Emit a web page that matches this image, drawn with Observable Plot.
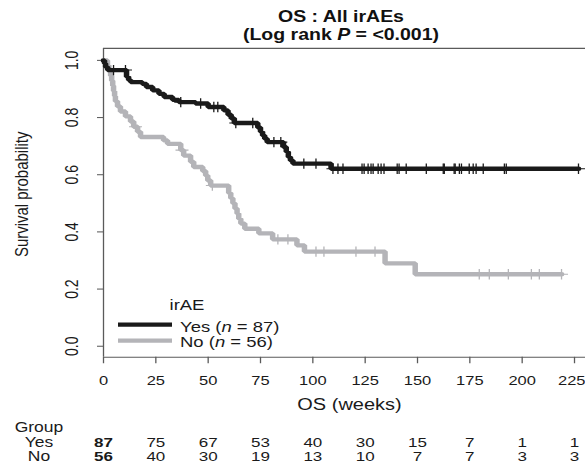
<!DOCTYPE html>
<html>
<head>
<meta charset="utf-8">
<script src="https://cdn.jsdelivr.net/npm/d3@7"></script>
<script src="https://cdn.jsdelivr.net/npm/@observablehq/plot@0.6"></script>
<style>
  html, body { margin: 0; padding: 0; background: #fff; overflow: hidden; }
  #chart svg { display: block; }
</style>
</head>
<body>
<div id="chart"></div>
<script>
// ---------- data ----------
const groups = ["Yes", "No"];
const groupN = [87, 56];

// Kaplan–Meier steps: event times (weeks) and survival after each step
const yesTimes = [0.5, 1, 2, 11, 12, 13, 18.5, 20.5, 23.5, 26.5, 29, 33, 36, 44, 50, 57.5, 59.5, 61, 62.5, 73.7, 75, 76, 77, 78.2, 86, 87.3, 88.3, 89.3, 90.5, 108.7];
const yesSurv  = [0.989, 0.977, 0.966, 0.943, 0.931, 0.924, 0.918, 0.907, 0.895, 0.883, 0.872, 0.862, 0.854, 0.849, 0.837, 0.825, 0.81, 0.797, 0.781, 0.765, 0.75, 0.737, 0.726, 0.714, 0.697, 0.68, 0.662, 0.65, 0.639, 0.621];
const yesCensor = [4.8, 10.5, 36.9, 46.4, 52.7, 54.6, 63.2, 71.3, 81.4, 84.7, 95.7, 101.5, 109.6, 112, 114.4, 123.5, 124.5, 126.4, 127.8, 128.8, 131.2, 132.6, 134, 140.3, 141.2, 144.6, 154.2, 162.3, 162.8, 167.5, 168, 170, 171, 174.7, 176.6, 178, 181.4, 191.5, 192.4, 226.9];

const noTimes = [1.9, 2.6, 3.4, 3.9, 4.4, 4.8, 5.3, 5.7, 6.7, 8.1, 10.5, 12.9, 14.4, 16.3, 17.7, 28.7, 30.6, 36.9, 38.3, 41.6, 43.1, 47.4, 48.8, 49.8, 51.2, 59.8, 60.8, 61.8, 62.8, 63.8, 64.6, 65.6, 67.5, 74.2, 80.8, 92.4, 96, 134.5, 148.9];
const noSurv  = [0.982, 0.964, 0.946, 0.929, 0.911, 0.893, 0.875, 0.857, 0.839, 0.821, 0.804, 0.786, 0.768, 0.75, 0.732, 0.72, 0.708, 0.686, 0.667, 0.645, 0.627, 0.613, 0.597, 0.58, 0.562, 0.536, 0.518, 0.5, 0.482, 0.464, 0.446, 0.429, 0.411, 0.395, 0.374, 0.353, 0.331, 0.29, 0.252];
const noCensor = [15.3, 37.5, 52, 83.3, 88.1, 101.5, 105.3, 120.6, 129.7, 179.5, 184.3, 193.4, 204.4, 208.2, 218.8];

const xTicks = [0, 25, 50, 75, 100, 125, 150, 175, 200, 225];
const yTicks = [0, 0.2, 0.4, 0.6, 0.8, 1.0];
const riskTimes = [0, 25, 50, 75, 100, 125, 150, 175, 200, 225];
const yesRisk = [87, 75, 67, 53, 40, 30, 15, 7, 1, 1];
const noRisk  = [56, 40, 30, 19, 13, 10, 7, 7, 3, 3];

// ---------- derived tables ----------
function survAt(T, S, t) { let s = 1; for (let i = 0; i < T.length; i++) if (T[i] <= t) s = S[i]; return s; }
function curve(T, S, C) {
  const pts = [{t: 0, s: 1}, ...T.map((t, i) => ({t, s: S[i]}))];
  const last = Math.max(...C);
  pts.push({t: last, s: S[S.length - 1]});
  return pts;
}
const yesCurve = curve(yesTimes, yesSurv, yesCensor);
const noCurve = curve(noTimes, noSurv, noCensor);
const yesMarks = yesCensor.map(t => ({t, s: survAt(yesTimes, yesSurv, t)}));
const noMarks = noCensor.map(t => ({t, s: survAt(noTimes, noSurv, t)}));
const riskRows = riskTimes.map((t, i) => ({t, yes: yesRisk[i], no: noRisk[i], i}));
const lastTick = xTicks[xTicks.length - 1];

// ---------- layout ----------
const K = 1.25;               // vertical squeeze of the reference
const W = 585, HD = 463, H = Math.round(HD * K);
const mL = 103, mR = 0, mT = 60, mB = H - 446.25;
const FONT = "'Liberation Sans', Arial, Helvetica, sans-serif";
const BLACK = "#1a1a1a", GREY = "#b4b4b8", AXIS = "#5a5a5a", TXT = "#1a1a1a";
const bottom = H - mB;
const tickBase = 481.5 - bottom;

const plus = {
  draw(ctx, size) {
    const r = Math.sqrt(size / Math.PI);
    ctx.moveTo(-r, 0); ctx.lineTo(r, 0);
    ctx.moveTo(0, -r); ctx.lineTo(0, r);
  }
};

const plot = Plot.plot({
  width: W, height: H,
  marginLeft: mL, marginRight: mR, marginTop: mT, marginBottom: mB,
  x: {domain: [0, 230.25]},
  y: {domain: [-0.0385, 1.042]},
  style: {fontFamily: FONT, fontSize: "17px", color: TXT, background: "#fff", overflow: "visible"},
  marks: [
    // frame: left, top, bottom
    Plot.ruleX([0], {stroke: AXIS, strokeWidth: 1.3}),
    Plot.ruleY([-0.0385, 1.042], {stroke: AXIS, strokeWidth: 1.3}),
    Plot.axisX({ticks: xTicks, tickSize: 8, label: null, stroke: AXIS, strokeWidth: 1.3,
                tickFormat: () => ""}),
    Plot.text(xTicks, {filter: d => d !== lastTick, x: d => d, text: d => String(d), frameAnchor: "bottom",
                       textAnchor: "middle", lineAnchor: "bottom", dy: tickBase, fontSize: 16.5, fill: TXT}),
    Plot.text(xTicks, {filter: d => d === lastTick, x: d => d, text: d => String(d), frameAnchor: "bottom",
                       textAnchor: "end", lineAnchor: "bottom", dx: 11, dy: tickBase, fontSize: 16.5, fill: TXT}),
    Plot.axisY({ticks: yTicks, tickSize: 6, label: null, stroke: AXIS, strokeWidth: 1.3,
                tickFormat: () => ""}),
    Plot.text(yTicks, {y: d => d, text: d => d.toFixed(1), frameAnchor: "left", textAnchor: "middle",
                       dx: -31.5, rotate: -90, fontSize: 17.5, fill: TXT}),
    Plot.text(["Survival probability"], {frameAnchor: "left", textAnchor: "middle", dx: -81.5,
                       dy: 242.5 - (mT + bottom) / 2, rotate: -90, fontSize: 18.7, fill: TXT}),
    Plot.text(["OS (weeks)"], {frameAnchor: "bottom", textAnchor: "middle", lineAnchor: "bottom", dx: 5,
                       dy: 512 - bottom, fontSize: 20, fill: TXT}),
    // curves
    Plot.line(noCurve, {x: "t", y: "s", curve: "step-after", stroke: GREY, strokeWidth: 5.5, strokeLinejoin: "miter"}),
    Plot.dot(noMarks, {x: "t", y: "s", symbol: plus, r: 6.5, stroke: GREY, strokeWidth: 1.3, fill: "none"}),
    Plot.line(yesCurve, {x: "t", y: "s", curve: "step-after", stroke: BLACK, strokeWidth: 5.5, strokeLinejoin: "miter"}),
    Plot.dot(yesMarks, {x: "t", y: "s", symbol: plus, r: 6.5, stroke: BLACK, strokeWidth: 1.3, fill: "none"}),
    // risk table
    Plot.text(["Group"], {frameAnchor: "bottom-left", textAnchor: "middle", lineAnchor: "bottom", dx: 38.5 - mL, dy: 539.4 - bottom, fontSize: 17.5, fill: TXT}),
    Plot.text([groups[0]], {frameAnchor: "bottom-left", textAnchor: "middle", lineAnchor: "bottom", dx: 38.5 - mL, dy: 558.1 - bottom, fontSize: 17.5, fill: TXT}),
    Plot.text([groups[1]], {frameAnchor: "bottom-left", textAnchor: "middle", lineAnchor: "bottom", dx: 38.5 - mL, dy: 576.2 - bottom, fontSize: 17.5, fill: TXT}),
    Plot.text(riskRows, {filter: d => d.i > 0, x: "t", text: d => String(d.yes), frameAnchor: "bottom", textAnchor: "middle", lineAnchor: "bottom", dy: 558.1 - bottom, fontSize: 17, fill: TXT}),
    Plot.text(riskRows, {filter: d => d.i === 0, x: "t", text: d => String(d.yes), frameAnchor: "bottom", textAnchor: "middle", lineAnchor: "bottom", dy: 558.1 - bottom, fontSize: 17, fontWeight: "bold", fill: TXT}),
    Plot.text(riskRows, {filter: d => d.i > 0, x: "t", text: d => String(d.no), frameAnchor: "bottom", textAnchor: "middle", lineAnchor: "bottom", dy: 576.2 - bottom, fontSize: 17, fill: TXT}),
    Plot.text(riskRows, {filter: d => d.i === 0, x: "t", text: d => String(d.no), frameAnchor: "bottom", textAnchor: "middle", lineAnchor: "bottom", dy: 576.2 - bottom, fontSize: 17, fontWeight: "bold", fill: TXT})
  ]
});

const svg = d3.select(plot);
// title
svg.append("text").attr("x", 341).attr("y", 27.5).attr("text-anchor", "middle")
  .attr("font-family", FONT).attr("font-size", 19.5).attr("font-weight", "bold").attr("fill", "#111")
  .text("OS : All irAEs");
const t2 = svg.append("text").attr("x", 341).attr("y", 50).attr("text-anchor", "middle")
  .attr("font-family", FONT).attr("font-size", 19.5).attr("font-weight", "bold").attr("fill", "#111");
t2.append("tspan").text("(Log rank ");
t2.append("tspan").attr("font-style", "italic").text("P");
t2.append("tspan").text(" = <0.001)");

// legend
const lg = svg.append("g").attr("font-family", FONT).attr("font-size", 18.5).attr("fill", TXT);
lg.append("text").attr("x", 187).attr("y", 388).attr("text-anchor", "middle").text("irAE");
const legendRows = [{y: 406, ty: 414.6, color: BLACK}, {y: 426, ty: 434, color: GREY}];
legendRows.forEach((r, i) => {
  lg.append("line").attr("x1", 118).attr("x2", 172).attr("y1", r.y).attr("y2", r.y)
    .attr("stroke", r.color).attr("stroke-width", 5.5);
  const tx = lg.append("text").attr("x", 180).attr("y", r.ty).attr("text-anchor", "start");
  tx.append("tspan").text(groups[i] + " (");
  tx.append("tspan").attr("font-style", "italic").text("n");
  tx.append("tspan").text(" = " + groupN[i] + ")");
});

// undo the vertical squeeze of the original: stretch the viewBox non-uniformly
plot.setAttribute("height", HD);
plot.setAttribute("width", W);
plot.setAttribute("preserveAspectRatio", "none");
plot.style.width = W + "px";
plot.style.height = HD + "px";
plot.style.maxWidth = "none";

document.getElementById("chart").appendChild(plot);
</script>
</body>
</html>
